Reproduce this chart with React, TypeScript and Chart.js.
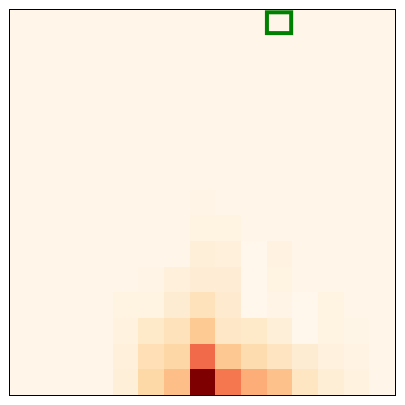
import React, { useEffect, useRef } from "react";
import { Chart, registerables } from "chart.js";

Chart.register(...registerables);

// 15 x 15 grid, rows listed top (0) to bottom (14), columns left (0) to right (14)
const colCategories = Array.from({ length: 15 }, (_, i) => i);
const rowCategories = Array.from({ length: 15 }, (_, i) => i);

const bg = 0.012;
const lo = 0.004;
const row0 = [bg, bg, bg, bg, bg, bg, bg, bg, bg, bg, bg, bg, bg, bg, bg];
const row1 = [bg, bg, bg, bg, bg, bg, bg, bg, bg, bg, bg, bg, bg, bg, bg];
const row2 = [bg, bg, bg, bg, bg, bg, bg, bg, bg, bg, bg, bg, bg, bg, bg];
const row3 = [bg, bg, bg, bg, bg, bg, bg, bg, bg, bg, bg, bg, bg, bg, bg];
const row4 = [bg, bg, bg, bg, bg, bg, bg, bg, bg, bg, bg, bg, bg, bg, bg];
const row5 = [bg, bg, bg, bg, bg, bg, bg, bg, bg, bg, bg, bg, bg, bg, bg];
const row6 = [bg, bg, bg, bg, bg, bg, bg, bg, bg, bg, bg, bg, bg, bg, bg];
const row7 = [bg, bg, bg, bg, bg, bg, bg, 0.025, bg, bg, bg, bg, bg, bg, bg];
const row8 = [bg, bg, bg, bg, bg, bg, bg, 0.035, 0.035, bg, bg, bg, bg, bg, bg];
const row9 = [bg, bg, bg, bg, bg, bg, bg, 0.065, 0.055, lo, 0.04, bg, bg, bg, bg];
const row10 = [bg, bg, bg, bg, bg, 0.025, 0.055, 0.085, 0.085, lo, 0.035, bg, bg, bg, bg];
const row11 = [bg, bg, bg, bg, 0.035, 0.035, 0.09, 0.16, 0.1, lo, 0.025, lo, 0.035, 0.015, bg];
const row12 = [bg, bg, bg, bg, 0.045, 0.12, 0.16, 0.3, 0.13, 0.12, 0.065, lo, 0.035, 0.02, bg];
const row13 = [bg, bg, bg, bg, 0.055, 0.18, 0.23, 0.61, 0.31, 0.2, 0.15, 0.09, 0.05, 0.03, bg];
const row14 = [bg, bg, bg, bg, 0.065, 0.22, 0.36, 1.0, 0.57, 0.41, 0.34, 0.14, 0.075, 0.045, bg];

const gridRows = [row0, row1, row2, row3, row4, row5, row6, row7, row8, row9, row10, row11, row12, row13, row14];

// highlighted cell (column, row)
const highlightCol = 10;
const highlightRow = 0;

// OrRd colormap anchors
const orRd: [number, number, number][] = [
  [255, 247, 236],
  [254, 232, 200],
  [253, 212, 158],
  [253, 187, 132],
  [252, 141, 89],
  [239, 101, 72],
  [215, 48, 31],
  [179, 0, 0],
  [127, 0, 0],
];

function colorFor(t: number): string {
  const v = Math.max(0, Math.min(1, t)) * (orRd.length - 1);
  const i = Math.min(orRd.length - 2, Math.floor(v));
  const f = v - i;
  const a = orRd[i];
  const b = orRd[i + 1];
  const c = a.map((x, k) => Math.round(x + (b[k] - x) * f));
  return `rgb(${c[0]},${c[1]},${c[2]})`;
}

const heatPlugin = {
  id: "heat",
  beforeDatasetsDraw(chart: any) {
    const { ctx, chartArea, scales } = chart;
    const xs = scales.x;
    const ys = scales.y;
    ctx.save();
    rowCategories.forEach((r) => {
      colCategories.forEach((c) => {
        const x0 = Math.round(xs.getPixelForValue(c));
        const x1 = Math.round(xs.getPixelForValue(c + 1));
        const y0 = Math.round(ys.getPixelForValue(r));
        const y1 = Math.round(ys.getPixelForValue(r + 1));
        ctx.fillStyle = colorFor(gridRows[r][c]);
        ctx.fillRect(x0, y0, x1 - x0, y1 - y0);
      });
    });
    // highlight rectangle
    ctx.beginPath();
    ctx.rect(chartArea.left, chartArea.top, chartArea.right - chartArea.left, chartArea.bottom - chartArea.top);
    ctx.clip();
    const hx0 = xs.getPixelForValue(highlightCol + 0.01);
    const hx1 = xs.getPixelForValue(highlightCol + 0.955);
    const hy0 = ys.getPixelForValue(highlightRow + 0.09);
    const hy1 = ys.getPixelForValue(highlightRow + 0.9);
    ctx.strokeStyle = "#008000";
    ctx.lineWidth = 4;
    ctx.strokeRect(hx0, hy0, hx1 - hx0, hy1 - hy0);
    ctx.restore();
  },
  afterDraw(chart: any) {
    const { ctx, chartArea } = chart;
    ctx.save();
    ctx.strokeStyle = "#000";
    ctx.lineWidth = 1;
    ctx.strokeRect(
      Math.round(chartArea.left) - 0.5,
      Math.round(chartArea.top) - 0.5,
      Math.round(chartArea.right - chartArea.left) + 1,
      Math.round(chartArea.bottom - chartArea.top) + 1
    );
    ctx.restore();
  },
};

export default function App() {
  const ref = useRef<HTMLCanvasElement | null>(null);
  useEffect(() => {
    if (!ref.current) return;
    const chart = new Chart(ref.current, {
      type: "scatter",
      data: { datasets: [{ data: [], pointRadius: 0 }] },
      options: {
        responsive: false,
        animation: false,
        layout: { padding: { left: 10, top: 10, right: 10, bottom: 10 } },
        plugins: { legend: { display: false }, tooltip: { enabled: false } },
        scales: {
          x: { type: "linear", min: 0, max: colCategories.length, display: false },
          y: { type: "linear", min: 0, max: rowCategories.length, reverse: true, display: false },
        },
      },
      plugins: [heatPlugin],
    });
    return () => chart.destroy();
  }, []);
  return (
    <div style={{ position: "absolute", left: 0, top: 0, width: 405, height: 405, background: "#fff" }}>
      <canvas ref={ref} width={405} height={405} style={{ width: 405, height: 405 }} />
    </div>
  );
}
